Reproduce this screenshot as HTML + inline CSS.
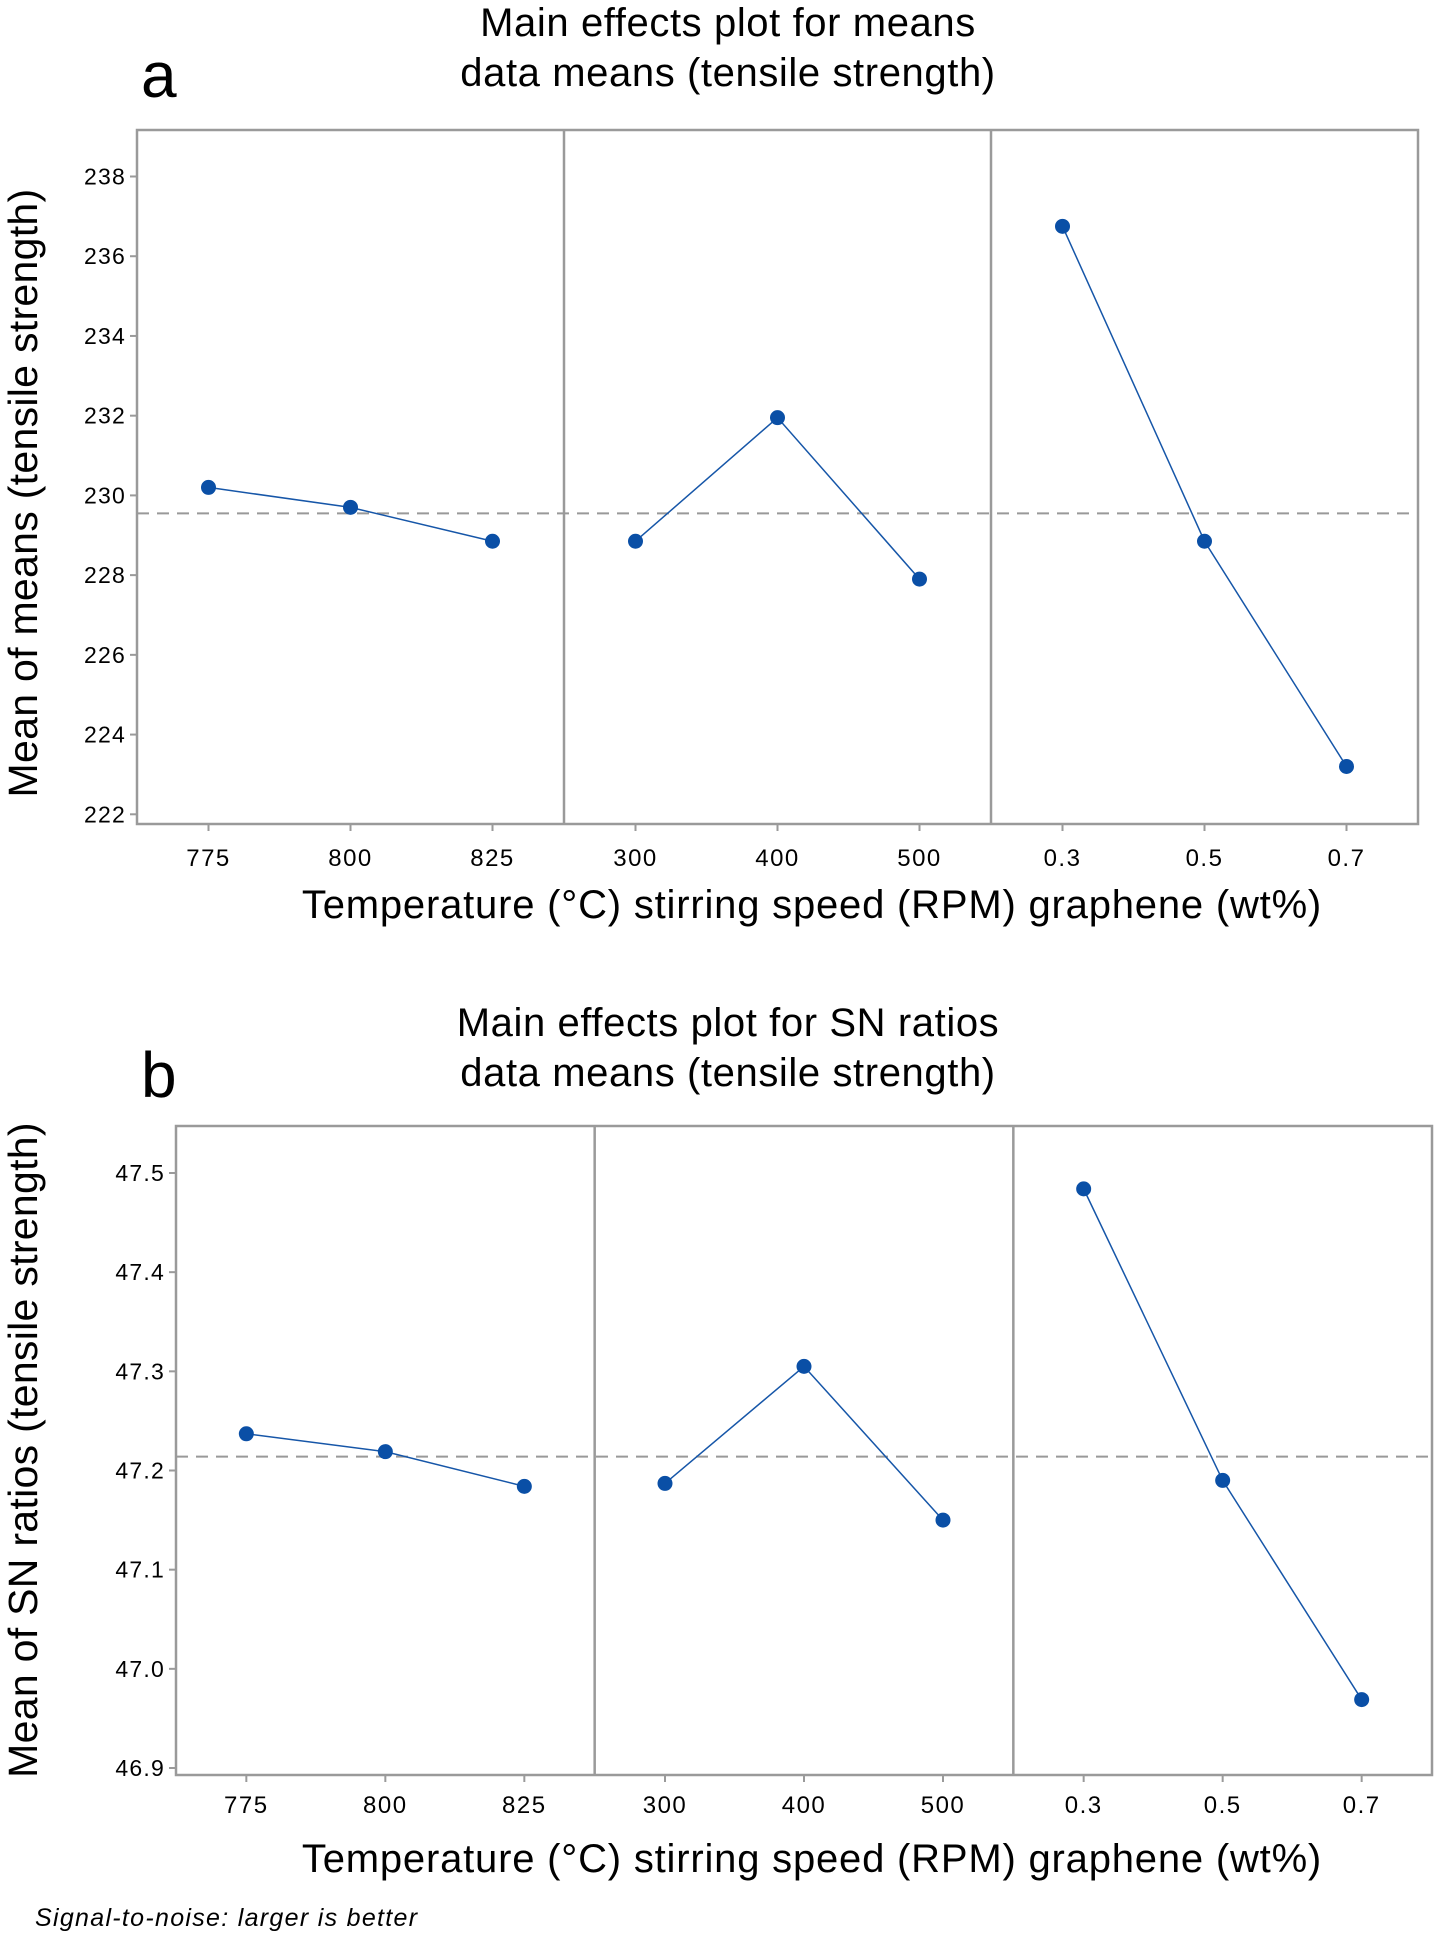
<!DOCTYPE html>
<html><head><meta charset="utf-8"><style>
html,body{margin:0;padding:0;background:#fff;}
svg{display:block;font-family:"Liberation Sans",Arial,sans-serif;}
</style></head><body>
<svg id="svg" width="1434" height="1933" viewBox="0 0 1434 1933" xmlns="http://www.w3.org/2000/svg">
<text x="728" y="36" font-size="40" letter-spacing="0.6" text-anchor="middle">Main effects plot for means</text>
<text x="728" y="86" font-size="40" letter-spacing="0.6" text-anchor="middle">data means (tensile strength)</text>
<text x="141" y="97" font-size="64">a</text>
<text x="728" y="1036" font-size="40" letter-spacing="0.6" text-anchor="middle">Main effects plot for SN ratios</text>
<text x="728" y="1086" font-size="40" letter-spacing="0.6" text-anchor="middle">data means (tensile strength)</text>
<text x="141" y="1097" font-size="64">b</text>
<text x="35" y="1926" font-size="25" letter-spacing="1.3" font-style="italic">Signal-to-noise:  larger is better</text>
</svg>
<script>
const factorLabels = ["Temperature (°C)", "stirring speed (RPM)", "graphene (wt%)"];
const levelsA = [["775","800","825"],["300","400","500"],["0.3","0.5","0.7"]];
const valuesA = [[230.2,229.7,228.85],[228.85,231.95,227.9],[236.75,228.85,223.2]];
const meanA = 229.55;
const ticksA = [222,224,226,228,230,232,234,236,238];
const valuesB = [[47.237,47.219,47.184],[47.187,47.305,47.150],[47.484,47.190,46.969]];
const meanB = 47.214;
const ticksB = [46.9,47.0,47.1,47.2,47.3,47.4,47.5];

const NS="http://www.w3.org/2000/svg";
const svg=document.getElementById('svg');
function el(tag,attrs,parent){const e=document.createElementNS(NS,tag);for(const k in attrs)e.setAttribute(k,attrs[k]);(parent||svg).appendChild(e);return e;}

function drawChart(cfg){
  const g=el('g',{});
  
  
  const yScale=v=>cfg.yRef0+(v-cfg.v0)*(cfg.yRef1-cfg.yRef0)/(cfg.v1-cfg.v0);
  const pw=(cfg.right-cfg.left)/3;
  const fr=el('rect',{x:cfg.left,y:cfg.top,width:cfg.right-cfg.left,height:cfg.bottom-cfg.top,fill:'none',stroke:'#9a9a9a','stroke-width':2.5},g);
  
  
  for(let i=1;i<3;i++){
    const d=el('line',{x1:cfg.left+pw*i,x2:cfg.left+pw*i,y1:cfg.top,y2:cfg.bottom,stroke:'#9a9a9a','stroke-width':2.5},g);
    
    
  }
  cfg.ticks.forEach(t=>{
    const y=yScale(t);
    const tl=el('line',{x1:cfg.left-7,x2:cfg.left,y1:y,y2:y,stroke:'#9a9a9a','stroke-width':2},g);
    
    
    const tx=el('text',{x:cfg.left-11,y:y+8,'font-size':23,'letter-spacing':1.2,'text-anchor':'end'},g);
    tx.textContent=cfg.fmt(t);
    
    
  });
  const ym=yScale(cfg.mean);
  const ml=el('line',{x1:cfg.left,x2:cfg.right,y1:ym,y2:ym,stroke:'#999','stroke-width':2,'stroke-dasharray':'12,8'},g);
  
  
  for(let p=0;p<3;p++){
    const cx=cfg.left+pw*p+pw/2, sp=cfg.spacing;
    const xs=[cx-sp,cx,cx+sp];
    const pts=cfg.values[p].map((v,i)=>[xs[i],yScale(v)]);
    const pl=el('polyline',{points:pts.map(q=>q.join(',')).join(' '),fill:'none',stroke:'#1656a8','stroke-width':1.5},g);
    
    
    pts.forEach((q,i)=>{
      const c=el('circle',{cx:q[0],cy:q[1],r:7.5,fill:'#0a4fa6'},g);
      
      
      const xt=el('line',{x1:q[0],x2:q[0],y1:cfg.bottom,y2:cfg.bottom+7,stroke:'#9a9a9a','stroke-width':2},g);
      
      
      const lb=el('text',{x:q[0],y:cfg.xTickY,'font-size':24,'letter-spacing':1.5,'text-anchor':'middle'},g);
      lb.textContent=levelsA[p][i];
      
      
    });
  }
  const xt=el('text',{x:812,y:cfg.xTitleY,'font-size':40,'letter-spacing':0.8,'text-anchor':'middle'},g);
  xt.textContent=factorLabels.join(' ');
  
  
  const yt=el('text',{x:0,y:0,'font-size':41,'letter-spacing':0.3,'text-anchor':'middle',transform:`translate(37,${cfg.yTitleY}) rotate(-90)`},g);
  yt.textContent=cfg.yTitle;
  
  
}
drawChart({name:'chart-a-means',left:137,right:1418,top:130,bottom:824,v0:222,v1:238,yRef0:814.3,yRef1:176.5,
  values:valuesA,mean:meanA,ticks:ticksA,fmt:t=>String(t),spacing:142,xTickY:866,xTitleY:918,yTitleY:493,yTitle:'Mean of means (tensile strength)'});
drawChart({name:'chart-b-sn-ratios',left:176,right:1432,top:1126,bottom:1775,v0:46.9,v1:47.5,yRef0:1768,yRef1:1173,
  values:valuesB,mean:meanB,ticks:ticksB,fmt:t=>t.toFixed(1),spacing:139,xTickY:1813,xTitleY:1872,yTitleY:1450,yTitle:'Mean of SN ratios (tensile strength)'});
</script>
</body></html>
